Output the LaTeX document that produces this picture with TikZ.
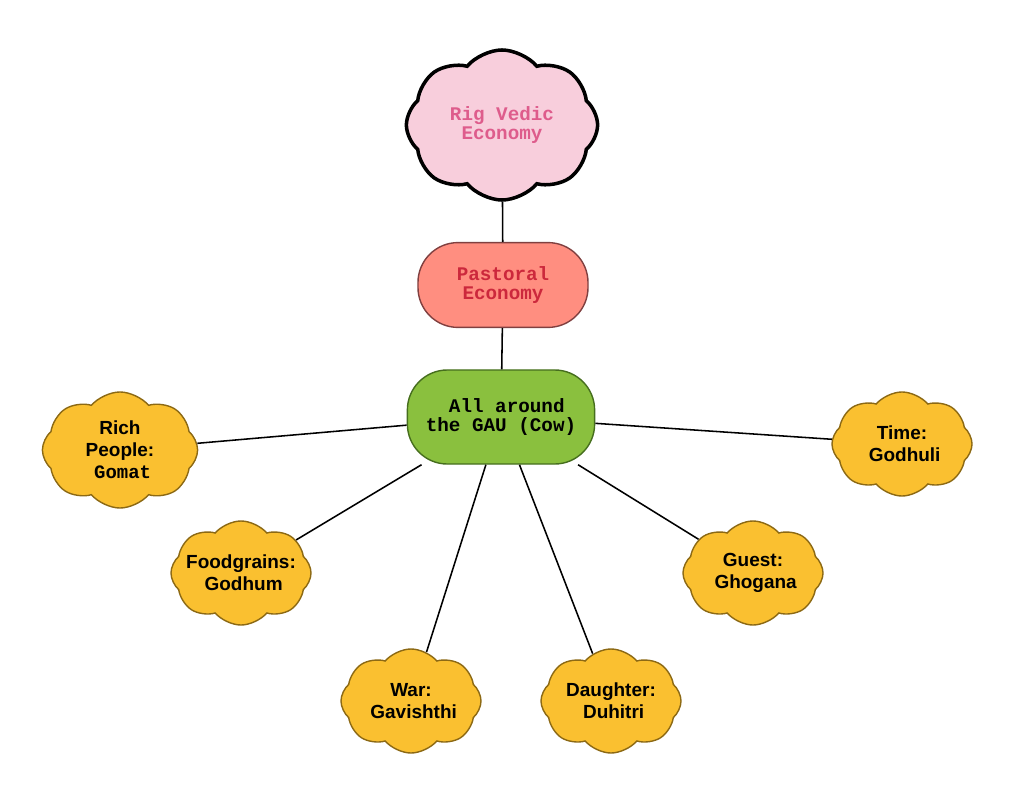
\documentclass[tikz,border=0pt]{standalone}
\usepackage{fontspec}
\setmainfont{Liberation Sans}
\setmonofont{Liberation Mono}
\usetikzlibrary{shapes.symbols}

\definecolor{rigfill}{RGB}{248,206,220}
\definecolor{rigtext}{RGB}{222,92,140}
\definecolor{pastfill}{RGB}{255,142,128}
\definecolor{pastline}{RGB}{128,64,64}
\definecolor{pasttext}{RGB}{204,40,60}
\definecolor{gaufill}{RGB}{138,192,62}
\definecolor{gauline}{RGB}{70,110,30}
\definecolor{cowfill}{RGB}{250,192,48}
\definecolor{cowline}{RGB}{140,105,20}

\tikzset{
  monotext/.style={font=\ttfamily\bfseries\fontsize{13.7}{13.5}\selectfont},
  rigcloud/.style={cloud, cloud puffs=8, cloud puff arc=100, aspect=1.3,
    draw=black, line width=2.5pt, fill=rigfill, text=rigtext, monotext,
    align=center, minimum width=4.78cm, minimum height=3.75cm, inner sep=-6pt},
  pastbox/.style={rectangle, rounded corners=1cm, draw=pastline, line width=1pt,
    fill=pastfill, text=pasttext, monotext, align=center,
    minimum width=4.25cm, minimum height=2.12cm},
  gaubox/.style={rectangle, rounded corners=1cm, draw=gauline, line width=1pt,
    fill=gaufill, text=black, monotext, align=center,
    minimum width=4.68cm, minimum height=2.35cm},
  cowcloud/.style={cloud, cloud puffs=8, cloud puff arc=100, aspect=1.35,
    draw=cowline, line width=1pt, fill=cowfill, text=black,
    font=\bfseries\fontsize{13.5}{15.5}\selectfont, align=center,
    minimum width=3.5cm, minimum height=2.6cm, inner sep=-12pt},
  link/.style={draw=black, line width=1.1pt}
}

\begin{document}
\begin{tikzpicture}[x=0.025cm,y=-0.025cm]
	\useasboundingbox (0,0) rectangle (1024,800);

	% top of the map
	\node[rigcloud] (rig) at (502,125) {Rig Vedic\\Economy};
	\node[pastbox] (past) at (503,285) {Pastoral\\Economy};
	\node[gaubox] (gau) at (501,417) {\ All around\\the GAU (Cow)};

	% words from the cow
	\node[cowcloud, minimum width=3.88cm, minimum height=2.9cm] (rich) at (120,450) {Rich\\People:\\\ {\ttfamily Gomat}};
	\node[cowcloud] (food) at (241,573) {Foodgrains:\\\ Godhum};
	\node[cowcloud] (war) at (411,701) {War:\\\ Gavishthi};
	\node[cowcloud] (daughter) at (611,701) {Daughter:\\\ Duhitri};
	\node[cowcloud] (guest) at (753,573) {Guest:\\\ Ghogana};
	\node[cowcloud] (time) at (902,444) {Time:\\\ Godhuli};

	\draw[link] (rig) -- (past);
	\draw[link] (past) -- (gau);
	\draw[link] (gau) -- (rich);
	\draw[link] (gau) -- (food);
	\draw[link] (gau) -- (war);
	\draw[link] (gau) -- (daughter);
	\draw[link] (gau) -- (guest);
	\draw[link] (gau) -- (time);

\end{tikzpicture}
\end{document}
